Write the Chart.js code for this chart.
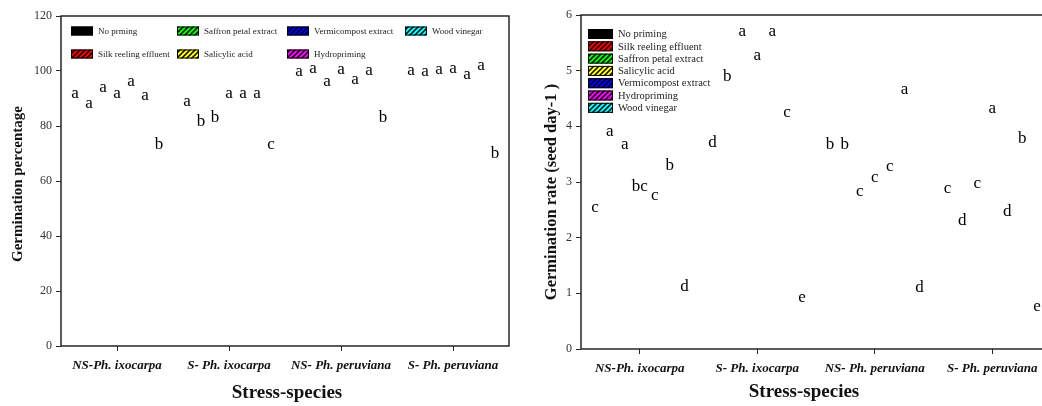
<!DOCTYPE html>
<html>
<head>
<meta charset="utf-8">
<script src="https://cdn.jsdelivr.net/npm/chart.js@4.4.1/dist/chart.umd.min.js"></script>
<style>
    html, body { margin: 0; padding: 0; background: #fff; width: 1042px; height: 406px; overflow: hidden; }
    .panel { position: absolute; top: 0; height: 406px; }
    #leftPanel { left: 0; width: 520px; }
    #rightPanel { left: 520px; width: 545px; }
</style>
</head>
<body>
<div class="panel" id="leftPanel"><canvas id="pctChart" width="520" height="406"></canvas></div>
<div class="panel" id="rightPanel"><canvas id="rateChart" width="545" height="406"></canvas></div>

<script>
// groups on the x axis
const categories = ['NS-Ph. ixocarpa', 'S- Ph. ixocarpa', 'NS- Ph. peruviana', 'S- Ph. peruviana'];

// treatments (bar order inside each group)
const treatments = ['No priming', 'Silk reeling effluent', 'Saffron petal extract', 'Salicylic acid',
                    'Vermicompost extract', 'Hydropriming', 'Wood vinegar'];
const pctLegend = ['No prming', 'Silk reeling effluent', 'Saffron petal extract', 'Salicylic acid',
                   'Vermicompost extract', 'Hydropriming', 'Wood vinegar'];
const swatchColors = ['#000000', '#ff0000', '#00ff00', '#ffff00', '#0000ff', '#ff00ff', '#00ffff'];

// Germination percentage, one array per treatment
const pctNoPriming = [89.5, 86.5, 97.4, 97.8];
const pctSilk      = [85.9, 79.3, 98.4, 97.3];
const pctSaffron   = [91.6, 80.8, 93.7, 98.3];
const pctSalicylic = [89.5, 89.5, 98.3, 98.7];
const pctVermi     = [94.0, 89.5, 94.7, 96.5];
const pctHydro     = [88.7, 89.5, 97.7, 99.8];
const pctWood      = [70.9, 70.9, 80.7, 67.6];

const pctLetNoPriming = ['a', 'a', 'a', 'a'];
const pctLetSilk      = ['a', 'b', 'a', 'a'];
const pctLetSaffron   = ['a', 'b', 'a', 'a'];
const pctLetSalicylic = ['a', 'a', 'a', 'a'];
const pctLetVermi     = ['a', 'a', 'a', 'a'];
const pctLetHydro     = ['a', 'a', 'a', 'a'];
const pctLetWood      = ['b', 'c', 'b', 'b'];

// Germination rate (seed day-1)
const rateNoPriming = [2.42, 3.60, 3.55, 2.76];
const rateSilk      = [3.79, 4.77, 3.55, 2.19];
const rateSaffron   = [3.56, 5.59, 2.72, 2.85];
const rateSalicylic = [2.80, 5.16, 2.96, 4.20];
const rateVermi     = [2.64, 5.59, 3.17, 2.35];
const rateHydro     = [3.18, 4.13, 4.55, 3.67];
const rateWood      = [1.01, 0.80, 0.99, 0.65];

const rateLetNoPriming = ['c', 'd', 'b', 'c'];
const rateLetSilk      = ['a', 'b', 'b', 'd'];
const rateLetSaffron   = ['a', 'a', 'c', 'c'];
const rateLetSalicylic = ['bc', 'a', 'c', 'a'];
const rateLetVermi     = ['c', 'a', 'c', 'd'];
const rateLetHydro     = ['b', 'c', 'a', 'b'];
const rateLetWood      = ['d', 'e', 'd', 'e'];

const pctTicks = [0, 20, 40, 60, 80, 100, 120];
const rateTicks = [0, 1, 2, 3, 4, 5, 6];

const SERIF = "'Liberation Serif', 'Times New Roman', serif";
const AXIS = '#262626';

function hatch(ctx, color) {
    if (color === '#000000') return color;
    const c = document.createElement('canvas');
    c.width = 5; c.height = 5;
    const g = c.getContext('2d');
    g.fillStyle = color;
    g.fillRect(0, 0, 5, 5);
    g.strokeStyle = '#000';
    g.lineWidth = 1.5;
    g.beginPath();
    g.moveTo(0, 5); g.lineTo(5, 0);
    g.moveTo(-1, 1); g.lineTo(1, -1);
    g.moveTo(4, 6); g.lineTo(6, 4);
    g.stroke();
    return ctx.createPattern(c, 'repeat');
}

function makeDatasets(values, letters) {
    return treatments.map((t, i) => ({
        label: t,
        data: values[i],
        letters: letters[i],
        backgroundColor: 'rgba(0,0,0,0)',
        borderWidth: 0
    }));
}

// letters above each (invisible) bar
const lettersPlugin = {
    id: 'letters',
    afterDatasetsDraw(chart) {
        const ctx = chart.ctx;
        ctx.save();
        ctx.font = '17px ' + SERIF;
        ctx.fillStyle = '#000';
        ctx.textAlign = 'center';
        ctx.textBaseline = 'alphabetic';
        chart.data.datasets.forEach((ds, d) => {
            chart.getDatasetMeta(d).data.forEach((bar, i) => {
                ctx.fillText(ds.letters[i], bar.x, bar.y - 2);
            });
        });
        ctx.restore();
    }
};

// box around the plot area
const framePlugin = {
    id: 'frame',
    afterDraw(chart) {
        const a = chart.chartArea, ctx = chart.ctx;
        ctx.save();
        ctx.strokeStyle = AXIS;
        ctx.lineWidth = 1.5;
        ctx.strokeRect(a.left, a.top, a.right - a.left, a.bottom - a.top);
        ctx.restore();
    }
};

// hand placed legend and axis titles
function decorPlugin(cfg) {
    return {
        id: 'decor',
        afterDraw(chart) {
            const ctx = chart.ctx;
            ctx.save();
            ctx.font = cfg.legendFont;
            ctx.textBaseline = 'middle';
            ctx.textAlign = 'left';
            cfg.legend.forEach((p, i) => {
                ctx.fillStyle = hatch(ctx, swatchColors[i]);
                ctx.fillRect(p[0], p[1] - cfg.sw[1] / 2, cfg.sw[0], cfg.sw[1]);
                ctx.strokeStyle = '#000';
                ctx.lineWidth = 1;
                ctx.strokeRect(p[0] + 0.5, p[1] - cfg.sw[1] / 2 + 0.5, cfg.sw[0] - 1, cfg.sw[1] - 1);
                ctx.fillStyle = '#222';
                ctx.fillText(cfg.labels[i], p[0] + cfg.sw[0] + 5, p[1] + 0.5);
            });

            ctx.fillStyle = '#111';
            ctx.textAlign = 'center';
            ctx.font = 'bold 19px ' + SERIF;
            ctx.fillText('Stress-species', cfg.xTitle[0], cfg.xTitle[1]);

            ctx.translate(cfg.yTitle[0], cfg.yTitle[1]);
            ctx.rotate(-Math.PI / 2);
            ctx.font = cfg.yFont;
            ctx.fillText(cfg.yText, 0, 0);
            ctx.restore();
        }
    };
}

function makeChart(id, values, letters, yMax, ticks, geom, decor) {
    const ctx = document.getElementById(id).getContext('2d');
    return new Chart(ctx, {
        type: 'bar',
        data: { labels: categories, datasets: makeDatasets(values, letters) },
        options: {
            responsive: false,
            animation: false,
            events: [],
            layout: { padding: { left: 0, top: geom.top, right: geom.right, bottom: 0 } },
            datasets: { bar: { categoryPercentage: geom.catPct, barPercentage: 1 } },
            plugins: { legend: { display: false }, tooltip: { enabled: false } },
            scales: {
                x: {
                    afterFit: s => { s.height = geom.xh; },
                    grid: { offset: false, drawOnChartArea: false, tickLength: 5, color: AXIS, lineWidth: 1 },
                    border: { display: false },
                    ticks: { padding: 7, color: '#111', font: { family: SERIF, size: 13, weight: 'bold', style: 'italic' } }
                },
                y: {
                    min: 0, max: yMax,
                    afterFit: s => { s.width = geom.yw; },
                    afterBuildTicks: s => { s.ticks = ticks.map(v => ({ value: v })); },
                    grid: { drawOnChartArea: false, tickLength: 5, color: AXIS, lineWidth: 1 },
                    border: { display: false },
                    ticks: { padding: 4, color: '#333', font: { family: SERIF, size: 12 } }
                }
            }
        },
        plugins: [lettersPlugin, framePlugin, decorPlugin(decor)]
    });
}

makeChart('pctChart',
    [pctNoPriming, pctSilk, pctSaffron, pctSalicylic, pctVermi, pctHydro, pctWood],
    [pctLetNoPriming, pctLetSilk, pctLetSaffron, pctLetSalicylic, pctLetVermi, pctLetHydro, pctLetWood],
    120, pctTicks,
    { top: 16, right: 11, xh: 60, yw: 61, catPct: 0.875 },
    {
        legendFont: '9px ' + SERIF, sw: [22, 9], labels: pctLegend,
        legend: [[71, 31], [71, 54], [177, 31], [177, 54], [287, 31], [287, 54], [405, 31]],
        xTitle: [287, 393], yTitle: [18, 184],
        yFont: 'bold 15px ' + SERIF, yText: 'Germination percentage'
    });

makeChart('rateChart',
    [rateNoPriming, rateSilk, rateSaffron, rateSalicylic, rateVermi, rateHydro, rateWood],
    [rateLetNoPriming, rateLetSilk, rateLetSaffron, rateLetSalicylic, rateLetVermi, rateLetHydro, rateLetWood],
    6, rateTicks,
    { top: 15, right: 14, xh: 57, yw: 61, catPct: 0.89 },
    {
        legendFont: '10.5px ' + SERIF, sw: [25, 10], labels: treatments,
        legend: [[68, 34], [68, 46.3], [68, 58.6], [68, 70.9], [68, 83.2], [68, 95.5], [68, 107.8]],
        xTitle: [284, 392], yTitle: [32, 192],
        yFont: 'bold 16.5px ' + SERIF, yText: 'Germination rate (seed day-1 )'
    });
</script>
</body>
</html>
